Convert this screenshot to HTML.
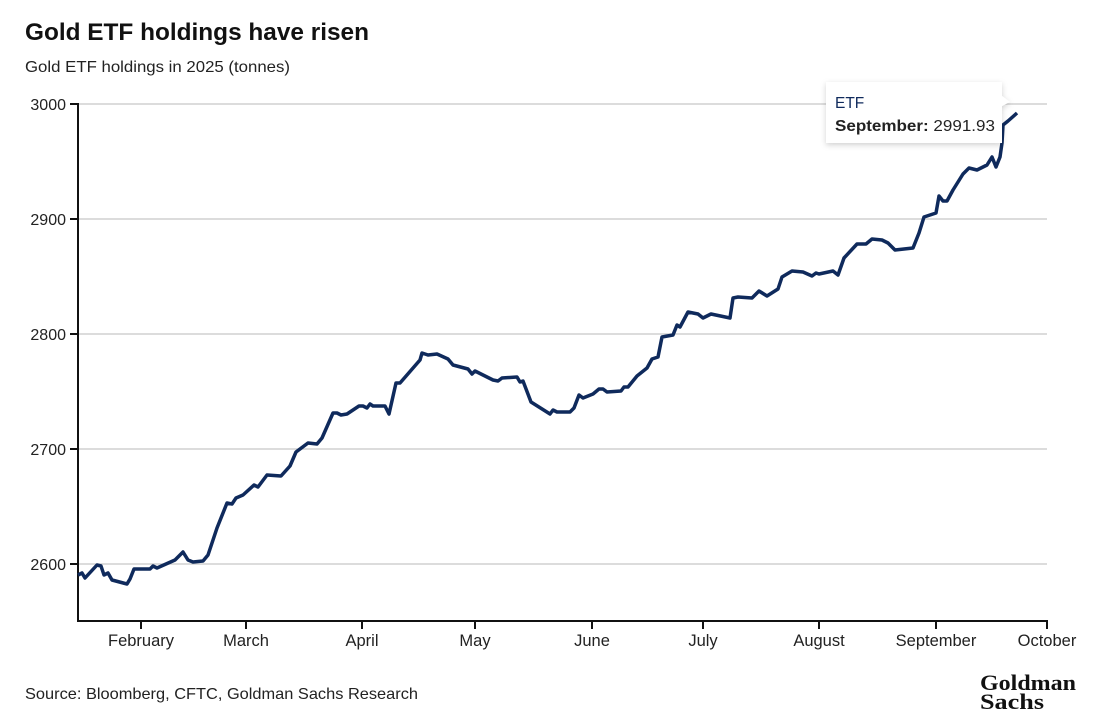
<!DOCTYPE html>
<html><head><meta charset="utf-8"><style>
body{margin:0;background:#fff;width:1100px;height:720px;overflow:hidden;font-family:"Liberation Sans",sans-serif;}
</style></head><body>
<svg width="1100" height="720" xmlns="http://www.w3.org/2000/svg" font-family="Liberation Sans, sans-serif">
<text x="25" y="40" font-size="24" font-weight="bold" fill="#111" textLength="344" lengthAdjust="spacingAndGlyphs">Gold ETF holdings have risen</text>
<text x="25" y="72" font-size="16" fill="#222" textLength="265" lengthAdjust="spacingAndGlyphs">Gold ETF holdings in 2025 (tonnes)</text>
<g stroke="#c8c8c8" stroke-width="1.3">
<line x1="78" y1="104" x2="1047" y2="104"/><line x1="78" y1="219" x2="1047" y2="219"/>
<line x1="78" y1="334" x2="1047" y2="334"/><line x1="78" y1="449" x2="1047" y2="449"/>
<line x1="78" y1="564" x2="1047" y2="564"/></g>
<g stroke="#111" stroke-width="2">
<line x1="78" y1="103" x2="78" y2="621"/><line x1="70" y1="104" x2="78" y2="104"/><line x1="70" y1="219" x2="78" y2="219"/><line x1="70" y1="334" x2="78" y2="334"/><line x1="70" y1="449" x2="78" y2="449"/><line x1="70" y1="564" x2="78" y2="564"/>
<line x1="77" y1="621" x2="1048" y2="621"/>
<line x1="141" y1="621" x2="141" y2="629"/><line x1="246" y1="621" x2="246" y2="629"/><line x1="362" y1="621" x2="362" y2="629"/><line x1="475" y1="621" x2="475" y2="629"/><line x1="592" y1="621" x2="592" y2="629"/><line x1="703" y1="621" x2="703" y2="629"/><line x1="819" y1="621" x2="819" y2="629"/><line x1="936" y1="621" x2="936" y2="629"/><line x1="1047" y1="621" x2="1047" y2="629"/></g>
<g font-size="16" fill="#222" text-anchor="end">
<text x="66" y="110">3000</text><text x="66" y="225">2900</text><text x="66" y="340">2800</text><text x="66" y="455">2700</text><text x="66" y="570">2600</text></g>
<g font-size="16.5" fill="#222" text-anchor="middle">
<text x="141" y="646">February</text><text x="246" y="646">March</text><text x="362" y="646">April</text><text x="475" y="646">May</text><text x="592" y="646">June</text><text x="703" y="646">July</text><text x="819" y="646">August</text><text x="936" y="646">September</text><text x="1047" y="646">October</text></g>
<polyline fill="none" stroke="#0f2a5c" stroke-width="3.5" stroke-linejoin="round" points="78,575 82,573 85,578 97,565 101,566 104,575 108,573 112,580 127,584 130,579 134,569 150,569 153,566 157,568 175,560 183,552 188,560 193,562 203,561 208,555 217,528 227,503 232,504 236,498 243,495 254,485 258,487 267,475 281,476 290,466 296,452 308,443 317,444 322,438 333,413 337,413 341,415 347,414 359,406 363,406 367,408 370,404 373,406 385,406 389,414 396,383 400,383 420,360 422,353 428,355 437,354 448,359 453,365 468,369 472,374 475,371 493,380 498,381 502,378 517,377 520,382 523,381 531,402 550,414 553,410 557,412 570,412 574,408 579,395 583,398 593,394 599,389 603,389 607,392 621,391 624,387 628,387 637,376 647,368 652,359 658,357 662,337 673,335 677,325 680,327 688,312 698,314 703,318 711,314 730,318 733,298 738,297 752,298 759,291 767,296 778,289 782,277 792,271 803,272 812,276 816,273 819,274 833,271 838,275 844,258 857,244 866,244 872,239 882,240 888,243 895,250 913,248 919,233 924,217 936,213 939,196 943,201 947,201 953,190 963,174 969,168 977,170 987,165 992,157 996,167 1000,157 1002,143 1003,125 1008,121 1017,113"/>
<defs><filter id="sh" x="-10%" y="-20%" width="120%" height="150%"><feDropShadow dx="0" dy="2" stdDeviation="3" flood-opacity="0.18"/></filter></defs>
<path d="M826,82 H1002 V96 L1010,102 L1002,106 V143 H826 Z" fill="#fff" filter="url(#sh)"/>
<text x="835" y="108" font-size="15.5" fill="#0f2a5c">ETF</text>
<text x="835" y="131" font-size="15.5" fill="#222" textLength="160" lengthAdjust="spacingAndGlyphs"><tspan font-weight="bold">September:</tspan> 2991.93</text>
<text x="25" y="699" font-size="16" fill="#222" textLength="393" lengthAdjust="spacingAndGlyphs">Source: Bloomberg, CFTC, Goldman Sachs Research</text>
<text x="980" y="690" font-size="22" font-weight="bold" font-family="Liberation Serif, serif" fill="#111" textLength="96" lengthAdjust="spacingAndGlyphs">Goldman</text>
<text x="980" y="709" font-size="22" font-weight="bold" font-family="Liberation Serif, serif" fill="#111" textLength="64" lengthAdjust="spacingAndGlyphs">Sachs</text>
</svg>
</body></html>
